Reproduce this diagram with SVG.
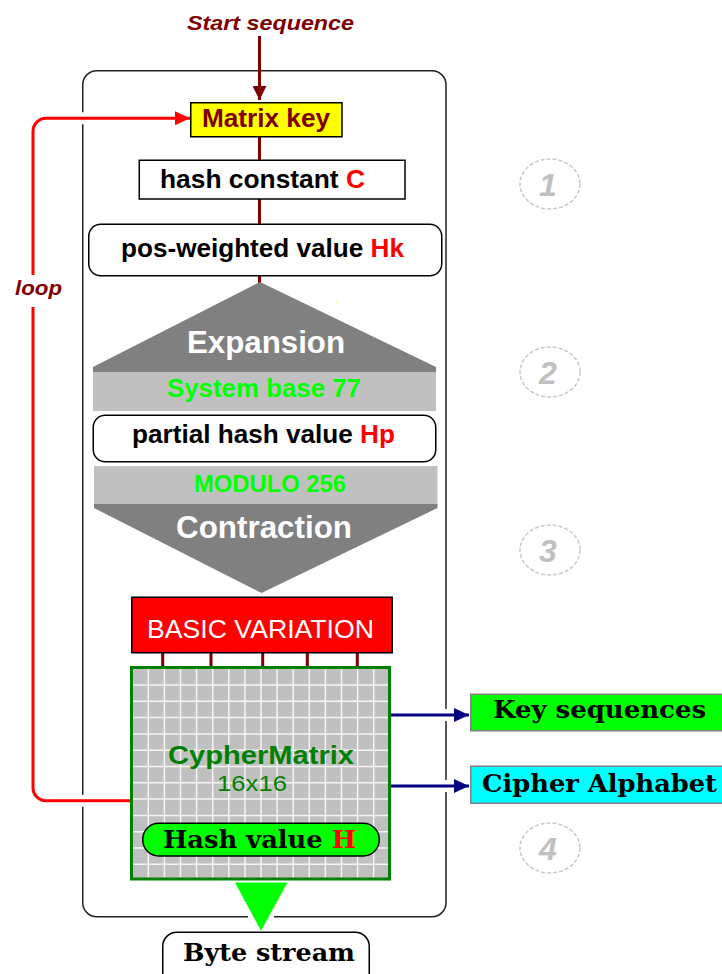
<svg xmlns="http://www.w3.org/2000/svg" width="722" height="974" viewBox="0 0 722 974">
<style>
.sans{font-family:"Liberation Sans",Arial,sans-serif}
.serif{font-family:"DejaVu Serif","Liberation Serif",serif;font-weight:bold}
.b{font-weight:bold}
.bi{font-weight:bold;font-style:italic}
.box{stroke:#000;stroke-width:1.5}
.dr{stroke:#800000;stroke-width:3;fill:none}
.halo{stroke:#fff;stroke-width:12;fill:none}
.num{font-family:"Liberation Sans",Arial,sans-serif;font-weight:bold;font-style:italic;font-size:32px;fill:#c0c0c0;text-anchor:middle}
.circ{fill:none;stroke:#c8c8c8;stroke-width:1.5;stroke-dasharray:4 2}
</style>
<defs>
<marker id="ahDR" markerUnits="userSpaceOnUse" markerWidth="14" markerHeight="14" refX="14" refY="7" orient="auto"><path d="M0,0 L14,7 L0,14 z" fill="#800000"/></marker>
<marker id="ahR" markerUnits="userSpaceOnUse" markerWidth="15" markerHeight="14" refX="15" refY="7" orient="auto"><path d="M0,0 L15,7 L0,14 z" fill="#ff0000"/></marker>
<marker id="ahB" markerUnits="userSpaceOnUse" markerWidth="15" markerHeight="14" refX="15" refY="7" orient="auto"><path d="M0,0 L15,7 L0,14 z" fill="#000080"/></marker>
</defs>
<rect width="722" height="974" fill="#fff"/>

<g id="container">
<rect x="82.75" y="70.75" width="363.25" height="846" rx="14" fill="none" stroke="#222" stroke-width="1.5"/>
<rect x="248" y="913" width="26" height="8" fill="#fff"/>
</g>

<g id="step-circles">
<ellipse class="circ" cx="550" cy="184" rx="30" ry="25"/>
<text class="num" x="548" y="196">1</text>
<ellipse class="circ" cx="550" cy="372" rx="30" ry="25"/>
<text class="num" x="548" y="384">2</text>
<ellipse class="circ" cx="550" cy="550" rx="30" ry="25"/>
<text class="num" x="548" y="562">3</text>
<ellipse class="circ" cx="550" cy="848" rx="30" ry="25"/>
<text class="num" x="548" y="860">4</text>
</g>

<g id="connectors">
<path class="dr" d="M259.5,36 V100" marker-end="url(#ahDR)"/>
<path class="dr" d="M259.5,137 V160 M259.5,199 V224 M259.5,276 V283"/>
<path class="dr" d="M162.7,653 V667 M211,653 V667 M262.7,653 V667 M307.3,653 V667 M357.3,653 V667"/>
<path class="halo" d="M65,118.3 H100 M65,800.7 H100 M430,715 H460 M430,786 H460"/>
<path d="M130,800.7 H46 A13,13 0 0 1 33,787.7 V307 M33,275 V131.3 A13,13 0 0 1 46,118.3 H190" fill="none" stroke="#ff0000" stroke-width="3" marker-end="url(#ahR)"/>
<path d="M391,715 H469" fill="none" stroke="#000080" stroke-width="3" marker-end="url(#ahB)"/>
<path d="M391,786 H469" fill="none" stroke="#000080" stroke-width="3" marker-end="url(#ahB)"/>
</g>

<g id="start-label">
<text class="sans bi" x="187" y="30" font-size="21" fill="#800000" textLength="167" lengthAdjust="spacingAndGlyphs">Start sequence</text>
</g>
<g id="loop-label">
<text class="sans bi" x="15" y="295" font-size="20" fill="#800000" textLength="47" lengthAdjust="spacingAndGlyphs">loop</text>
</g>

<g id="matrix-key">
<rect class="box" x="190.75" y="102.75" width="151.25" height="34" fill="#ffff00"/>
<text class="sans b" x="202" y="127" font-size="26" fill="#800000" textLength="128" lengthAdjust="spacingAndGlyphs">Matrix key</text>
</g>

<g id="hash-constant">
<rect class="box" x="139.25" y="160.25" width="265.75" height="38.75" fill="#fff"/>
<text class="sans b" x="160" y="188" font-size="26" fill="#000" textLength="205" lengthAdjust="spacingAndGlyphs">hash constant <tspan fill="#ff0000">C</tspan></text>
</g>

<g id="pos-weighted">
<rect class="box" x="88.75" y="224.25" width="353" height="51.5" rx="12" fill="#fff"/>
<text class="sans b" x="121" y="257" font-size="26" fill="#000" textLength="283" lengthAdjust="spacingAndGlyphs">pos-weighted value <tspan fill="#ff0000">Hk</tspan></text>
</g>

<g id="expansion">
<polygon points="260,282 436,367 436,372 93,372 93,367" fill="#808080"/>
<text class="sans b" x="187" y="353" font-size="31" fill="#fff" textLength="158" lengthAdjust="spacingAndGlyphs">Expansion</text>
<rect x="336" y="301" width="2" height="2" fill="#ffff80"/>
</g>

<g id="system-base">
<rect x="93" y="372" width="343" height="39" fill="#c0c0c0"/>
<text class="sans b" x="167" y="397" font-size="26" fill="#00ff00" textLength="194" lengthAdjust="spacingAndGlyphs">System base 77</text>
</g>

<g id="partial-hash">
<rect class="box" x="93.25" y="415.25" width="342.5" height="46.5" rx="12" fill="#fff"/>
<text class="sans b" x="132" y="443" font-size="26" fill="#000" textLength="263" lengthAdjust="spacingAndGlyphs">partial hash value <tspan fill="#ff0000">Hp</tspan></text>
</g>

<g id="modulo">
<rect x="94" y="466" width="343.5" height="38" fill="#c0c0c0"/>
<text class="sans b" x="194" y="492" font-size="24" fill="#00ff00" textLength="152" lengthAdjust="spacingAndGlyphs">MODULO 256</text>
</g>

<g id="contraction">
<polygon points="94,504 437.5,504 437.5,508 261.5,593 94,508" fill="#808080"/>
<text class="sans b" x="176" y="538" font-size="31" fill="#fff" textLength="176" lengthAdjust="spacingAndGlyphs">Contraction</text>
</g>

<g id="basic-variation">
<rect class="box" x="131.75" y="597.25" width="260.5" height="55.5" fill="#ff0000"/>
<text class="sans" x="147" y="638" font-size="26" fill="#fff" textLength="227" lengthAdjust="spacingAndGlyphs">BASIC VARIATION</text>
</g>

<g id="cyphermatrix">
<rect x="131.5" y="667.5" width="258" height="211.5" fill="#c0c0c0"/>
<path d="M148.3,669 V878 M164.4,669 V878 M180.5,669 V878 M196.6,669 V878 M212.7,669 V878 M228.8,669 V878 M244.9,669 V878 M261,669 V878 M277.1,669 V878 M293.2,669 V878 M309.3,669 V878 M325.4,669 V878 M341.5,669 V878 M357.6,669 V878 M373.7,669 V878 M133,685 H388 M133,701.3 H388 M133,717.6 H388 M133,733.9 H388 M133,750.2 H388 M133,766.5 H388 M133,782.8 H388 M133,799.1 H388 M133,815.4 H388 M133,831.7 H388 M133,848 H388 M133,864.3 H388" stroke="#f4f4f4" stroke-width="1.5" fill="none"/>
<rect x="131.5" y="667.5" width="258" height="211.5" fill="none" stroke="#008000" stroke-width="3"/>
<text class="sans b" x="168" y="764" font-size="25" fill="#008000" textLength="186" lengthAdjust="spacingAndGlyphs">CypherMatrix</text>
<text class="sans" x="217" y="791" font-size="22" fill="#008000" textLength="70" lengthAdjust="spacingAndGlyphs">16x16</text>
</g>

<g id="hash-value">
<rect class="box" x="142.75" y="823.25" width="236.5" height="32.75" rx="16" fill="#00ff00"/>
<text class="serif" x="163" y="848" font-size="25" fill="#000" textLength="193" lengthAdjust="spacingAndGlyphs">Hash value <tspan fill="#ff0000">H</tspan></text>
</g>

<g id="output-arrow">
<polygon points="235,882.5 287.5,882.5 261,930.7" fill="#00ff00"/>
</g>

<g id="byte-stream">
<rect class="box" x="162.75" y="932.25" width="206.5" height="60" rx="14" fill="#fff"/>
<text class="serif" x="183" y="961" font-size="25" fill="#000" textLength="172" lengthAdjust="spacingAndGlyphs">Byte stream</text>
</g>

<g id="key-sequences">
<rect x="470.75" y="694.25" width="260" height="36.5" fill="#00ff00" stroke="#808080" stroke-width="1.5"/>
<text class="serif" x="493" y="718" font-size="24" fill="#000" textLength="213" lengthAdjust="spacingAndGlyphs">Key sequences</text>
</g>

<g id="cipher-alphabet">
<rect x="470.75" y="766.25" width="260" height="37" fill="#00ffff" stroke="#808080" stroke-width="1.5"/>
<text class="serif" x="482" y="792" font-size="24" fill="#000" textLength="235" lengthAdjust="spacingAndGlyphs">Cipher Alphabet</text>
</g>
</svg>
